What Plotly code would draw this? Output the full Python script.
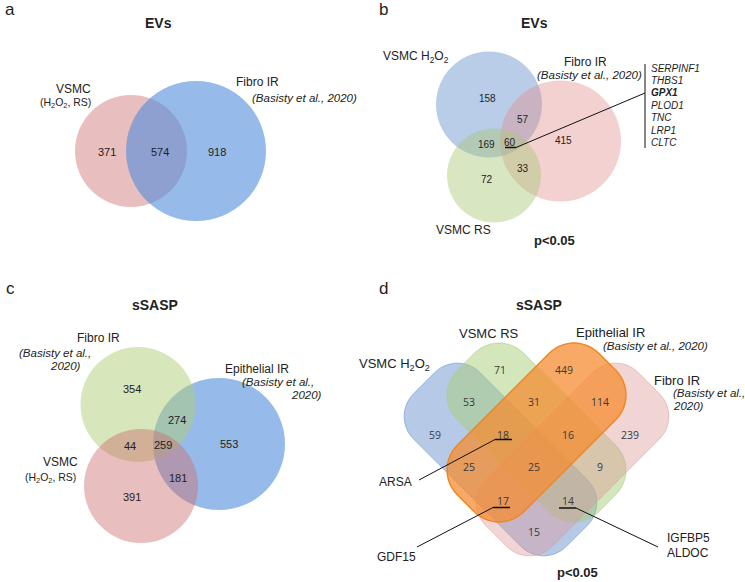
import numpy as np
import plotly.graph_objects as go

FONT = "Liberation Sans, Arial, sans-serif"
NUMFONT = "Open Sans, Liberation Sans, sans-serif"
SRC = "<i>(Basisty et al., 2020)</i>"

# ---------------- data ----------------
a_title = "EVs"
a_regions = ["VSMC only", "VSMC & Fibro IR", "Fibro IR only"]
a_counts = [371, 574, 918]

b_title = "EVs"
b_regions = ["H2O2 only", "H2O2 & Fibro", "H2O2 & RS", "all three", "Fibro only", "Fibro & RS", "RS only"]
b_counts = [158, 57, 169, 60, 415, 33, 72]
b_genes = ["SERPINF1", "THBS1", "GPX1", "PLOD1", "TNC", "LRP1", "CLTC"]
b_gene_bold = ["GPX1"]

c_title = "sSASP"
c_regions = ["Fibro only", "Fibro & Epi", "Fibro & VSMC", "all three", "Epi only", "Epi & VSMC", "VSMC only"]
c_counts = [354, 274, 44, 259, 553, 181, 391]

d_title = "sSASP"
d_regions = ["RS only", "Epi only", "H2O2&RS", "RS&Epi", "Epi&Fibro", "H2O2 only", "H2O2&RS&Epi",
             "RS&Epi&Fibro", "Fibro only", "H2O2&Epi", "all four", "RS&Fibro", "H2O2&Epi&Fibro",
             "H2O2&RS&Fibro", "H2O2&Fibro"]
d_counts = [71, 449, 53, 31, 114, 59, 18, 16, 239, 25, 25, 9, 17, 14, 15]
d_underlined = [18, 17, 14]
d_callouts = [["ARSA"], ["GDF15"], ["IGFBP5", "ALDOC"]]

# ---------------- layout geometry (pixels) ----------------
a_num_pos = [(107, 152), (160, 152), (217, 152)]
b_num_pos = [(487, 98), (523, 119), (486, 144), (510, 142), (563, 140), (523, 168), (487, 179)]
c_num_pos = [(132, 389), (177, 420), (130, 446), (163, 445), (229, 444), (178, 478), (132, 497)]
d_num_pos = [(500, 370), (564, 370), (469, 402), (534, 402), (600, 402), (435, 435), (503, 435),
             (568, 435), (630, 435), (469, 467), (534, 467), (600, 467), (503, 501), (568, 501),
             (534, 532)]

shapes, annotations = [], []


def text(t, x, y, size, xanchor="center", color="#222222", family=FONT):
    annotations.append(dict(x=x, y=y, xref="x", yref="y", text=t, showarrow=False,
                            xanchor=xanchor, yanchor="middle", borderpad=0,
                            font=dict(family=family, size=size, color=color)))


def circle(cx, cy, r, fill, line="rgba(0,0,0,0)", lw=0):
    shapes.append(dict(type="circle", xref="x", yref="y", x0=cx - r, x1=cx + r,
                       y0=cy - r, y1=cy + r, fillcolor=fill, line=dict(color=line, width=lw)))


def line(x0, y0, x1, y1, w=1.0, color="#111111"):
    shapes.append(dict(type="line", xref="x", yref="y", x0=x0, y0=y0, x1=x1, y1=y1,
                       line=dict(color=color, width=w)))


def rrect(cx, cy, L, W, r, ang, fill, lcol, lw):
    hl, hw = L / 2 - r, W / 2 - r
    pts = []
    for ox, oy, st in [(hl, hw, 0), (-hl, hw, 90), (-hl, -hw, 180), (hl, -hw, 270)]:
        for t in np.radians(np.linspace(st, st + 90, 14)):
            pts.append((ox + r * np.cos(t), oy + r * np.sin(t)))
    a = np.radians(ang)
    ca, sa = np.cos(a), np.sin(a)
    rp = [(cx + px * ca - py * sa, cy + px * sa + py * ca) for px, py in pts]
    path = "M " + " L ".join(f"{x:.2f},{y:.2f}" for x, y in rp) + " Z"
    shapes.append(dict(type="path", xref="x", yref="y", path=path, fillcolor=fill,
                       line=dict(color=lcol, width=lw)))


# ---------------- panel a ----------------
text("a", 10, 9, 17)
text("<b>" + a_title + "</b>", 158, 23, 14)
circle(131, 151, 56, "rgba(205,110,110,0.45)")
circle(196, 151, 70, "rgba(80,140,220,0.6)")
for v, (x, y) in zip(a_counts, a_num_pos):
    text(str(v), x, y, 11)
text("VSMC", 92, 89, 12, "right")
text("(H<sub>2</sub>O<sub>2</sub>, RS)", 92, 103, 10.5, "right")
text("Fibro IR", 257, 82, 12)
text(SRC, 358, 98, 11.5, "right")

# ---------------- panel b ----------------
text("b", 383, 9, 17)
text("<b>" + b_title + "</b>", 534, 23, 14)
circle(489, 104.5, 53, "rgba(100,145,205,0.45)")
circle(560.5, 141, 60.5, "rgba(225,140,140,0.4)")
circle(494, 175.5, 47, "rgba(170,200,120,0.45)")
for v, (x, y) in zip(b_counts, b_num_pos):
    text(str(v), x, y, 10)
line(505, 147.5, 516, 147.5, 1.5)
line(516, 147.5, 645, 93, 1)
line(645, 64, 645, 148, 1)
for i, g in enumerate(b_genes):
    t = f"<b><i>{g}</i></b>" if g in b_gene_bold else f"<i>{g}</i>"
    text(t, 650, 68 + i * 12.4, 10, "left")
text("VSMC H<sub>2</sub>O<sub>2</sub>", 416, 57, 12)
text("Fibro IR", 585, 62, 12)
text(SRC, 589, 75, 11.5)
text("VSMC RS", 463, 230, 12)
text("<b>p<0.05</b>", 554, 240, 13)

# ---------------- panel c ----------------
text("c", 10, 288, 17)
text("<b>" + c_title + "</b>", 155, 305, 14)
circle(219, 444, 66, "rgba(80,140,220,0.6)")
circle(138, 404.5, 57.5, "rgba(175,205,120,0.5)")
circle(141, 486, 57, "rgba(205,110,110,0.45)")
for v, (x, y) in zip(c_counts, c_num_pos):
    text(str(v), x, y, 11)
text("Fibro IR", 98, 338, 12)
text("<i>(Basisty et al.,</i>", 92, 353, 11.5, "right")
text("<i>2020)</i>", 82, 366, 11.5, "right")
text("Epithelial IR", 257, 369, 12)
text("<i>(Basisty et al.,</i>", 315, 382, 11.5, "right")
text("<i>2020)</i>", 323, 395, 11.5, "right")
text("VSMC", 79, 462, 12, "right")
text("(H<sub>2</sub>O<sub>2</sub>, RS)", 77, 478, 10.5, "right")

# ---------------- panel d ----------------
text("d", 383, 288, 17)
text("<b>" + d_title + "</b>", 539, 305, 14)
rrect(500.5, 459.5, 216, 94, 32, 45, "rgba(110,150,210,0.5)", "rgba(110,150,210,0.6)", 1)
rrect(536.5, 432.5, 200, 94, 35, 45, "rgba(170,205,120,0.5)", "rgba(170,205,120,0.6)", 1)
rrect(572.5, 459.5, 216, 94, 32, -45, "rgba(220,150,150,0.4)", "rgba(220,150,150,0.5)", 1)
rrect(536.5, 432.5, 200, 94, 35, -45, "rgba(245,140,50,0.75)", "rgb(240,135,35)", 1.5)
for v, (x, y) in zip(d_counts, d_num_pos):
    text(str(v), x, y, 10.5, color="#3a3a3a", family=NUMFONT)
# callouts
line(495, 439.5, 512, 439.5, 1.5)
line(495, 439.5, 419, 480, 1)
text(d_callouts[0][0], 413, 482, 12, "right")
line(493, 507.5, 510, 507.5, 1.5)
line(493, 507.5, 417, 547, 1)
text(d_callouts[1][0], 417, 557, 12, "right")
line(559, 508, 576, 508, 1.5)
line(576, 508, 658, 547, 1)
for i, g in enumerate(d_callouts[2]):
    text(g, 666, 538 + i * 14.5, 12, "left")
text("VSMC H<sub>2</sub>O<sub>2</sub>", 431, 364, 13, "right")
text("VSMC RS", 489, 333, 13)
text("Epithelial IR", 610, 332, 13)
text(SRC, 655, 346, 11.5)
text("Fibro IR", 677, 380, 13)
text("<i>(Basisty et al.,</i>", 672, 393, 11.5, "left")
text("<i>2020)</i>", 672, 406, 11.5, "left")
text("<b>p<0.05</b>", 577, 572, 13)

fig = go.Figure()
fig.update_layout(
    width=745, height=582, margin=dict(l=0, r=0, t=0, b=0),
    paper_bgcolor="white", plot_bgcolor="white", showlegend=False,
    xaxis=dict(range=[0, 745], visible=False, fixedrange=True),
    yaxis=dict(range=[582, 0], visible=False, fixedrange=True),
    shapes=shapes, annotations=annotations,
)
fig.write_html("out.html", config={"displayModeBar": False},
               post_script="document.body.style.margin='0px';document.body.style.overflow='hidden';")
